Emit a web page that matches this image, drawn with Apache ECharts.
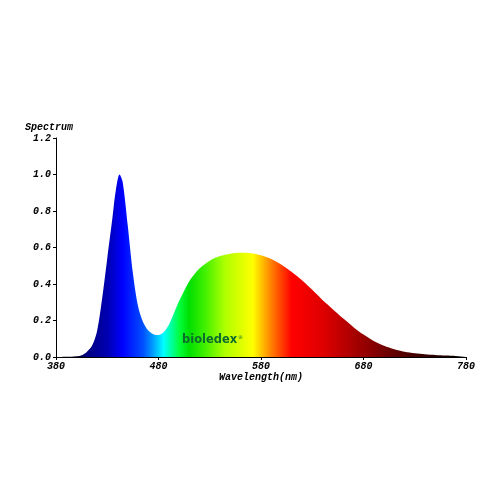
<!DOCTYPE html>
<html>
<head>
<meta charset="utf-8">
<script src="https://cdn.jsdelivr.net/npm/echarts@6/dist/echarts.min.js"></script>
<style>html,body{margin:0;padding:0;background:#fff}#c{width:500px;height:500px}</style>
</head>
<body>
<div id="c"></div>
<script>
var wavelengths = [380,385,390,395,400,405,410,415,420,425,430,435,438,442,445,450,455,460,465,470,475,480,485,490,495,500,510,520,530,540,550,560,570,580,590,600,610,620,630,640,650,660,670,680,690,700,710,720,730,740,750,760,770,780];
var spectrum = [0.000,0.000,0.001,0.002,0.004,0.010,0.028,0.060,0.140,0.320,0.540,0.760,0.900,1.000,0.960,0.720,0.460,0.280,0.190,0.145,0.125,0.120,0.135,0.175,0.240,0.305,0.415,0.485,0.528,0.553,0.566,0.571,0.569,0.558,0.537,0.506,0.466,0.420,0.368,0.312,0.262,0.212,0.165,0.123,0.088,0.061,0.042,0.029,0.021,0.015,0.011,0.008,0.006,0.005];
var xTicks = [380,480,580,680,780];
var yTicks = [0.0,0.2,0.4,0.6,0.8,1.0,1.2];
var colorStopsNm = [380,400,410,430,445,465,475,485,500,510,525,545,572,590,610,640,675,720,780];
var colorStopsColor = ['#000010','#00002a','#000080','#0000b0','#0000ff','#0050ff','#00a0ff','#00ffff','#00ff40','#00e000','#40f000','#b0ff00','#ffff00','#ff8000','#ff0000','#e00000','#a00000','#500000','#000000'];

var FONT = '"Liberation Mono", "Courier New", monospace';
var stops = colorStopsNm.map(function(nm,i){ return {offset:(nm-380)/400, color:colorStopsColor[i]}; });
var data = wavelengths.map(function(w,i){ return [w, spectrum[i]]; });

var chart = echarts.init(document.getElementById('c'));
chart.setOption({
  animation:false,
  backgroundColor:'#ffffff',
  grid:{left:56, right:34, top:138, bottom:143},
  xAxis:{
    type:'value', min:380, max:780, interval:100,
    name:'Wavelength(nm)', nameLocation:'middle', nameGap:15,
    nameTextStyle:{fontFamily:FONT, fontWeight:'bold', fontStyle:'italic', fontSize:10, color:'#000'},
    axisLine:{lineStyle:{color:'#000', width:1}},
    axisTick:{length:3, lineStyle:{color:'#000'}},
    axisLabel:{fontFamily:FONT, fontWeight:'bold', fontStyle:'italic', fontSize:10, color:'#000', margin:4,
      customValues: xTicks},
    splitLine:{show:false}
  },
  yAxis:{
    type:'value', min:0, max:1.2, interval:0.2,
    axisLine:{show:true, lineStyle:{color:'#000', width:1}},
    axisTick:{show:true, length:3, lineStyle:{color:'#000'}},
    axisLabel:{fontFamily:FONT, fontWeight:'bold', fontStyle:'italic', fontSize:10, color:'#000', margin:5,
      formatter:function(v){ return v.toFixed(1); }},
    splitLine:{show:false}
  },
  graphic:[
    {type:'text', left:25, top:122, z:100, style:{text:'Spectrum', font:'italic bold 10px ' + FONT, fill:'#000'}},
    {type:'text', left:182, top:334, z:100, style:{text:'bioledex', font:'bold 11.5px "DejaVu Sans", sans-serif', fill:'#0d6b2e'}},
    {type:'text', left:238, top:335, z:100, style:{text:'®', font:'5px "DejaVu Sans", sans-serif', fill:'#0d6b2e'}}
  ],
  series:[{
    type:'line', data:data, smooth:0.3, showSymbol:false, symbol:'none',
    lineStyle:{width:0},
    areaStyle:{opacity:1, color:{type:'linear', x:0, y:0, x2:1, y2:0, colorStops:stops}},
    z:1
  }]
});
</script>
</body>
</html>
